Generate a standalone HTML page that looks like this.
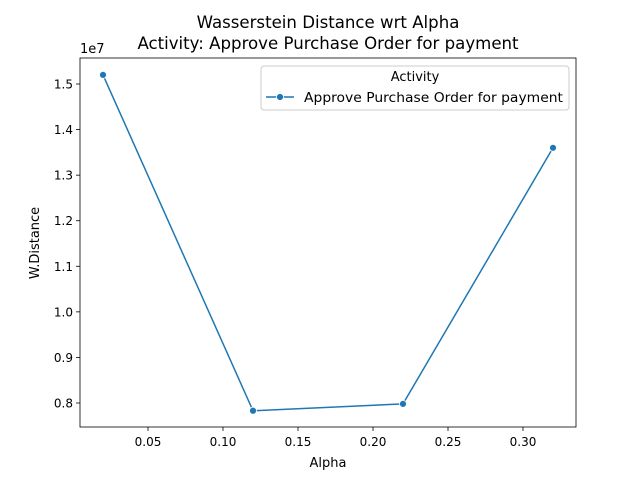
<!DOCTYPE html>
<html><head><meta charset="utf-8"><style>
body{margin:0;background:#fff;font-family:"Liberation Sans","DejaVu Sans",sans-serif;}
</style></head><body>
<svg id="chart" width="640" height="480" xmlns="http://www.w3.org/2000/svg" font-family="DejaVu Sans, Liberation Sans, sans-serif">
<rect width="640" height="480" fill="#fff"/>
<text x="328" y="28" text-anchor="middle" font-size="16.6">Wasserstein Distance wrt Alpha</text>
<text x="328" y="49" text-anchor="middle" font-size="16.6">Activity: Approve Purchase Order for payment</text>
<g id="axes"></g>
<g id="marks"></g>
<rect x="80" y="58" width="496" height="369" fill="none" stroke="#000" stroke-width="0.8"/>
<text x="328" y="467" text-anchor="middle" font-size="13">Alpha</text>
<text transform="translate(39,243) rotate(-90)" text-anchor="middle" font-size="13">W.Distance</text>
<text x="80" y="53" font-size="13">1e7</text>
<g>
<rect x="261" y="66" width="308" height="44" rx="3" fill="#fff" stroke="#ccc"/>
<text x="415" y="81" text-anchor="middle" font-size="13">Activity</text>
<line x1="266" y1="97" x2="294" y2="97" stroke="#1f77b4" stroke-width="1.5"/>
<circle cx="280" cy="97" r="3.5" fill="#1f77b4" stroke="#fff" stroke-width="0.8"/>
<text x="304" y="102" font-size="13" textLength="259" lengthAdjust="spacingAndGlyphs">Approve Purchase Order for payment</text>
</g>
</svg>
<script>
const alphas = [0.02, 0.12, 0.22, 0.32];
const distances = [1.52, 0.783, 0.798, 1.36];
const xTicks = [0.05, 0.10, 0.15, 0.20, 0.25, 0.30];
const xTickLabels = ["0.05","0.10","0.15","0.20","0.25","0.30"];
const yTicks = [0.8, 0.9, 1.0, 1.1, 1.2, 1.3, 1.4, 1.5];
const yTickLabels = ["0.8","0.9","1.0","1.1","1.2","1.3","1.4","1.5"];
const NS = "http://www.w3.org/2000/svg";
const xs = v => 103 + (v - 0.02) * 1500;
const ys = v => 403 - (v - 0.8) * 455.7;
function mk(tag, attrs, parent){const e=document.createElementNS(NS,tag);for(const k in attrs)e.setAttribute(k,attrs[k]);parent.appendChild(e);return e;}
const axes = document.getElementById('axes');
xTicks.forEach((t,i)=>{
  const g = mk('g',{},axes);
  
  
  mk('line',{x1:xs(t),x2:xs(t),y1:427,y2:431,stroke:'#000','stroke-width':0.8},g);
  const tx = mk('text',{x:xs(t),y:446,'text-anchor':'middle','font-size':12},g);
  tx.textContent = xTickLabels[i];
});
yTicks.forEach((t,i)=>{
  const g = mk('g',{},axes);
  
  
  mk('line',{x1:76,x2:80,y1:ys(t),y2:ys(t),stroke:'#000','stroke-width':0.8},g);
  const tx = mk('text',{x:73,y:ys(t)+4.5,'text-anchor':'end','font-size':12},g);
  tx.textContent = yTickLabels[i];
});
const marks = document.getElementById('marks');
const pl = mk('polyline',{points:alphas.map((a,i)=>xs(a)+','+ys(distances[i])).join(' '),fill:'none',stroke:'#1f77b4','stroke-width':1.5},marks);


alphas.forEach((a,i)=>{
  const c = mk('circle',{cx:xs(a),cy:ys(distances[i]),r:3.5,fill:'#1f77b4',stroke:'#fff','stroke-width':0.8},marks);
  
  
});
</script>
</body></html>
